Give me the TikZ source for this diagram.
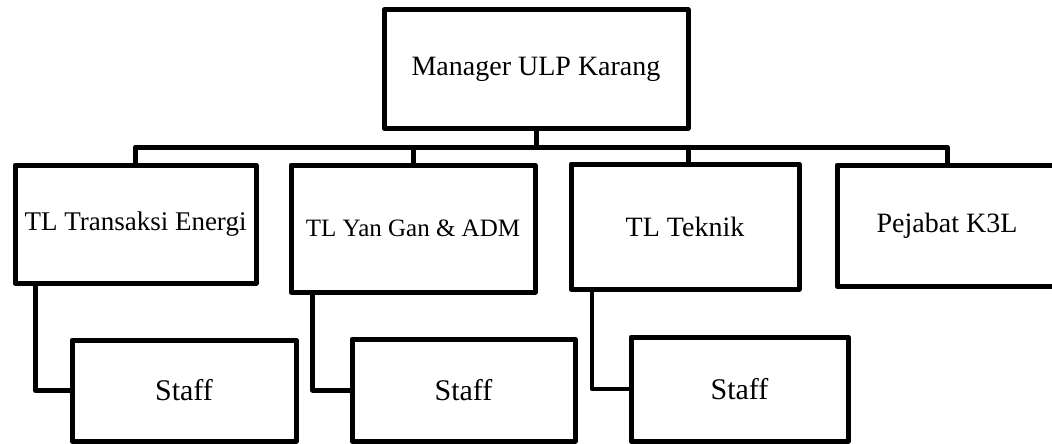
\documentclass[tikz,border=0pt]{standalone}
\usepackage{fontspec}
\setmainfont{Liberation Serif}
\begin{document}
\begin{tikzpicture}[x=1pt,y=-1pt,
  orgbox/.style={draw=black, line width=5pt, line join=round, fill=white, inner sep=0pt, align=center},
  conn/.style={draw=black, line width=5pt, line join=round}]
\useasboundingbox (0,0) rectangle (1052,444);
\clip (0,0) rectangle (1052,444);
\fill[white] (0,0) rectangle (1052,444);
% top
\node[orgbox, minimum width=304pt, minimum height=118pt, font=\fontsize{28}{31}\selectfont] (top) at (536,69) {Manager ULP Karang};
% second row
\node[orgbox, minimum width=241pt, minimum height=118pt, font=\fontsize{27}{30}\selectfont] (b1) at (135.5,224) {TL Transaksi Energi};
\node[orgbox, minimum width=244pt, minimum height=127pt, font=\fontsize{25}{28}\selectfont] (b2) at (413,228.5) {TL Yan Gan \& ADM};
\node[orgbox, minimum width=228pt, minimum height=125pt, font=\fontsize{28}{31}\selectfont] (b3) at (685,226.5) {TL Teknik};
\node[orgbox, minimum width=220pt, minimum height=121pt, font=\fontsize{28}{31}\selectfont] (b4) at (947,225.5) {Pejabat K3L};
% staff
\node[orgbox, minimum width=224pt, minimum height=101pt, font=\fontsize{30}{33}\selectfont] (s1) at (184,390.5) {Staff};
\node[orgbox, minimum width=223pt, minimum height=102pt, font=\fontsize{30}{33}\selectfont] (s2) at (463.5,390) {Staff};
\node[orgbox, minimum width=217pt, minimum height=104pt, font=\fontsize{30}{33}\selectfont] (s3) at (739.5,389) {Staff};
% bus
\coordinate (bus) at (135,147);
\draw[conn] (top.south) -- (top.south |- bus);
\draw[conn] (b1.north) |- (b4.north |- bus) -- (b4.north);
\draw[conn] (b2.north) -- (b2.north |- bus);
\draw[conn] ([xshift=3pt]b3.north) -- ([xshift=3pt]b3.north |- bus);
% staff connectors
\draw[conn] ([xshift=23pt]b1.south west) |- (s1.west);
\draw[conn] ([xshift=24pt]b2.south west) |- (s2.west);
\draw[conn, line width=4pt] ([xshift=23pt]b3.south west) |- (s3.west);
\end{tikzpicture}
\end{document}
